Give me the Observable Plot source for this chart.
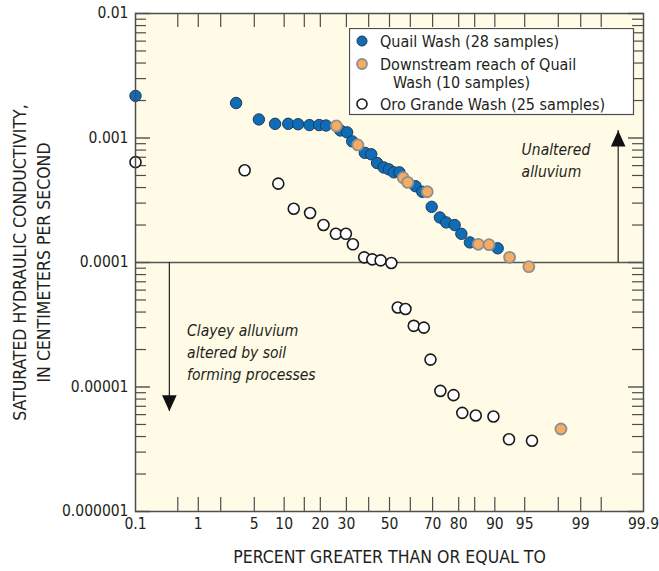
<!DOCTYPE html>
<html>
<head>
<meta charset="utf-8">
<script src="https://cdn.jsdelivr.net/npm/d3@7"></script>
<script src="https://cdn.jsdelivr.net/npm/@observablehq/plot@0.6"></script>
<style>
  body { margin: 0; background: #ffffff; }
  #chart { position: relative; width: 659px; height: 571px; }
  #legend { position: absolute; left: 349px; top: 28px; }
</style>
</head>
<body>
<div id="chart"></div>
<script>
// Saturated hydraulic conductivity (cm/s) versus percent of samples greater than or equal to
const quailPercent = [0.1, 3.1, 5.6, 8.2, 10.9, 13.3, 16.5, 19.6, 22.0, 27.5, 30.3, 32.5, 38.2, 41.2,
  44.0, 47.2, 49.7, 52.1, 54.8, 62.4, 65.5, 69.6, 73.0, 75.5, 78.6, 80.9, 83.6, 90.6];
const quailK = [0.00218, 0.00191, 0.00141, 0.00130, 0.00130, 0.00129, 0.00127, 0.00127, 0.00126,
  0.00115, 0.00111, 0.00094, 0.00076, 0.00074, 0.00063, 0.00058, 0.00056, 0.00053, 0.00053,
  0.00041, 0.00037, 0.00028, 0.00023, 0.00021, 0.00020, 0.00017, 0.000145, 0.00013];

const downstreamPercent = [25.9, 35.0, 56.6, 58.8, 67.7, 86.0, 88.7, 92.8, 95.5, 98.15];
const downstreamK = [0.00125, 0.00088, 0.00048, 0.00044, 0.00037, 0.00014, 0.000139, 0.00011,
  0.0000925, 0.0000046];

const oroPercent = [0.1, 3.9, 8.8, 12.2, 16.7, 21.1, 25.7, 29.8, 32.8, 37.9, 41.7, 45.7, 50.9,
  54.0, 57.7, 61.6, 66.2, 69.1, 73.2, 78.2, 81.2, 85.3, 89.7, 92.7, 95.85];
const oroK = [0.00064, 0.00055, 0.00043, 0.00027, 0.00025, 0.0002, 0.00017, 0.00017, 0.00014,
  0.00011, 0.000106, 0.000104, 0.000099, 0.0000435, 0.0000423, 0.000031, 0.00003, 0.0000166,
  0.0000093, 0.0000086, 0.0000062, 0.0000059, 0.0000058, 0.0000038, 0.0000037];

// Axis ticks
const xTickPercents = [0.5, 1, 2, 5, 10, 15, 20, 30, 40, 50, 60, 70, 80, 85, 90, 95, 98, 99, 99.5];
const xLabelPercents = [0.1, 1, 5, 10, 20, 30, 50, 70, 80, 90, 95, 99, 99.9];
const xLabelText = ["0.1", "1", "5", "10", "20", "30", "50", "70", "80", "90", "95", "99", "99.9"];
const yDecades = [0.01, 0.001, 0.0001, 0.00001, 0.000001];
const yDecadeText = ["0.01", "0.001", "0.0001", "0.00001", "0.000001"];

// Threshold between unaltered and clay-altered alluvium
const threshold = 0.0001;

// Inverse of the standard normal CDF (Acklam's rational approximation)
function probit(p) {
  const a = [-3.969683028665376e+01, 2.209460984245205e+02, -2.759285104469687e+02,
    1.383577518672690e+02, -3.066479806614716e+01, 2.506628277459239e+00];
  const b = [-5.447609879822406e+01, 1.615858368580409e+02, -1.556989798598866e+02,
    6.680131188771972e+01, -1.328068155288572e+01];
  const c = [-7.784894002430293e-03, -3.223964580411365e-01, -2.400758277161838e+00,
    -2.549732539343734e+00, 4.374664141464968e+00, 2.938163982698783e+00];
  const d = [7.784695709041462e-03, 3.224671290700398e-01, 2.445134137142996e+00,
    3.754408661907416e+00];
  const plow = 0.02425, phigh = 1 - plow;
  let q, r;
  if (p < plow) {
    q = Math.sqrt(-2 * Math.log(p));
    return (((((c[0]*q+c[1])*q+c[2])*q+c[3])*q+c[4])*q+c[5]) / ((((d[0]*q+d[1])*q+d[2])*q+d[3])*q+1);
  }
  if (p <= phigh) {
    q = p - 0.5; r = q * q;
    return (((((a[0]*r+a[1])*r+a[2])*r+a[3])*r+a[4])*r+a[5])*q /
      (((((b[0]*r+b[1])*r+b[2])*r+b[3])*r+b[4])*r+1);
  }
  q = Math.sqrt(-2 * Math.log(1 - p));
  return -(((((c[0]*q+c[1])*q+c[2])*q+c[3])*q+c[4])*q+c[5]) / ((((d[0]*q+d[1])*q+d[2])*q+d[3])*q+1);
}
const px = (pct) => probit(pct / 100);

const zip = (ps, ks) => ps.map((p, i) => ({p, k: ks[i]}));
const quail = zip(quailPercent, quailK);
const downstream = zip(downstreamPercent, downstreamK);
const oro = zip(oroPercent, oroK);

const minorY = [];
for (const dec of [1e-6, 1e-5, 1e-4, 1e-3]) for (let m = 2; m <= 9; m++) minorY.push(dec * m);

// Direction arrows and their notes
const arrows = [
  {p: 0.37, tip: 0.0000064, rotate: 0},
  {p: 99.73, tip: 0.00115, rotate: 180}
];
const notes = [
  {p: 94.6, k: 0.00068, text: "Unaltered\nalluvium"},
  {p: 0.69, k: 0.0000194, text: "Clayey alluvium\naltered by soil\nforming processes"}
];

const arrowHead = {
  draw(context) {
    context.moveTo(0, 0);
    context.lineTo(-7.3, -16);
    context.lineTo(7.3, -16);
    context.closePath();
  }
};

const W = 659, H = 571, mL = 135, mR = 16, mT = 13, mB = 60;
const plotW = W - mL - mR, plotH = H - mT - mB;
const FONT = '"DejaVu Sans Condensed", "Liberation Sans Narrow", sans-serif';
const INK = "#231f20";
const AXIS = "#4d4d4d";

const chart = Plot.plot({
  width: W, height: H,
  marginLeft: mL, marginRight: mR, marginTop: mT, marginBottom: mB,
  style: {fontFamily: FONT, fontSize: "15px", color: INK, background: "transparent", overflow: "visible"},
  x: {type: "linear", domain: [probit(0.001), probit(0.999)], axis: null},
  y: {type: "log", domain: [1e-6, 1e-2], axis: null},
  marks: [
    Plot.frame({fill: "#fffbe6", stroke: null}),
    // inward tick marks on all four sides
    Plot.tickY(minorY, {y: d => d, insetRight: plotW - 11, stroke: AXIS, strokeWidth: 1.2}),
    Plot.tickY(minorY, {y: d => d, insetLeft: plotW - 11, stroke: AXIS, strokeWidth: 1.2}),
    Plot.tickY(yDecades, {y: d => d, insetRight: plotW - 15, stroke: AXIS, strokeWidth: 1.4}),
    Plot.tickY(yDecades, {y: d => d, insetLeft: plotW - 15, stroke: AXIS, strokeWidth: 1.4}),
    Plot.tickX(xTickPercents, {x: px, insetBottom: plotH - 14, stroke: AXIS, strokeWidth: 1.2}),
    Plot.tickX(xTickPercents, {x: px, insetTop: plotH - 14, stroke: AXIS, strokeWidth: 1.2}),
    // tick labels
    Plot.text(xLabelPercents, {x: px, text: (d, i) => xLabelText[i], frameAnchor: "bottom",
      lineAnchor: "top", dy: 6, fontSize: 15.5, fill: INK}),
    Plot.text(yDecades, {y: d => d, text: (d, i) => yDecadeText[i], frameAnchor: "left",
      textAnchor: "end", dx: -7, fontSize: 15.5, fill: INK}),
    // axis titles
    Plot.text(["PERCENT GREATER THAN OR EQUAL TO"], {frameAnchor: "bottom", textAnchor: "middle",
      lineAnchor: "middle", dy: 46, fontSize: 17.5, fill: INK}),
    Plot.text(["SATURATED HYDRAULIC CONDUCTIVITY,\nIN CENTIMETERS PER SECOND"], {frameAnchor: "left",
      textAnchor: "middle", lineAnchor: "middle", rotate: -90, dx: -105, lineHeight: 1.35,
      fontSize: 17.5, fill: INK}),
    // threshold line and arrows
    Plot.ruleY([threshold], {stroke: "#555", strokeWidth: 1.3}),
    Plot.ruleX(arrows, {x: d => px(d.p), y1: threshold, y2: "tip", stroke: "#222", strokeWidth: 1.2}),
    Plot.dot(arrows, {x: d => px(d.p), y: "tip", symbol: arrowHead, rotate: "rotate", fill: "#111", stroke: null}),
    Plot.text(notes, {x: d => px(d.p), y: "k", text: "text", textAnchor: "start", lineAnchor: "middle",
      fontStyle: "italic", fontSize: 15.5, lineHeight: 1.42, fill: INK}),
    // samples
    Plot.dot(quail, {x: d => px(d.p), y: "k", r: 5.7, fill: "#0f6db7", stroke: "#1d3a58", strokeWidth: 1}),
    Plot.dot(downstream, {x: d => px(d.p), y: "k", r: 5.5, fill: "#f4ad62", stroke: "#8f8f8f", strokeWidth: 1.8}),
    Plot.dot(oro, {x: d => px(d.p), y: "k", r: 5.5, fill: "#ffffff", stroke: "#1a1a1a", strokeWidth: 1.6}),
    Plot.frame({stroke: AXIS, strokeWidth: 1.5})
  ]
});
document.getElementById("chart").appendChild(chart);

// Legend
const legend = d3.select("#chart").append("div").attr("id", "legend");
const lsvg = legend.append("svg").attr("width", 286).attr("height", 88)
  .style("font-family", FONT).style("font-size", "16px").style("fill", INK);
lsvg.append("rect").attr("x", 0.5).attr("y", 0.5).attr("width", 284).attr("height", 86)
  .attr("fill", "#ffffff").attr("stroke", AXIS).attr("stroke-width", 1.2);
const entries = [
  {y: 13, lines: ["Quail Wash (28 samples)"], fill: "#0f6db7", stroke: "#1d3a58", sw: 1},
  {y: 36, lines: ["Downstream reach of Quail", "Wash (10 samples)"], fill: "#f4ad62", stroke: "#8f8f8f", sw: 1.8},
  {y: 76, lines: ["Oro Grande Wash (25 samples)"], fill: "#ffffff", stroke: "#1a1a1a", sw: 1.6}
];
for (const e of entries) {
  lsvg.append("circle").attr("cx", 13).attr("cy", e.y).attr("r", 5).attr("fill", e.fill)
    .attr("stroke", e.stroke).attr("stroke-width", e.sw);
  e.lines.forEach((t, i) => {
    lsvg.append("text").attr("x", i === 0 ? 31 : 44).attr("y", e.y + i * 18).attr("dy", "0.35em").text(t);
  });
}
</script>
</body>
</html>
